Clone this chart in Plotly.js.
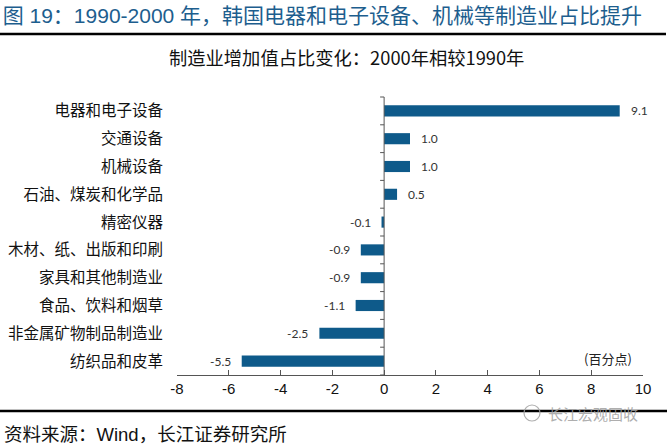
<!DOCTYPE html>
<html>
<head>
<meta charset="utf-8">
<script src="https://cdn.plot.ly/plotly-3.0.1.min.js"></script>
<style>html,body{margin:0;padding:0;background:#fff;}#chart{width:667px;height:445px;}</style>
</head>
<body>
<div id="chart"></div>
<script>
var categories = ["电器和电子设备","交通设备","机械设备","石油、煤炭和化学品","精密仪器","木材、纸、出版和印刷","家具和其他制造业","食品、饮料和烟草","非金属矿物制品制造业","纺织品和皮革"];
var values = [9.1, 1.0, 1.0, 0.5, -0.1, -0.9, -0.9, -1.1, -2.5, -5.5];
var xTicks = [-8, -6, -4, -2, 0, 2, 4, 6, 8, 10];

var W = 667, H = 445, L = 177, R = 24, T = 97, B = 70;
var pw = W - L - R, ph = H - T - B;
function px(x){ return (x - L) / pw; }
function py(y){ return (H - B - y) / ph; }

var cjk = '"Noto Sans CJK SC", sans-serif';
var mixed = '"Liberation Sans", "Noto Sans CJK SC", sans-serif';
var barColor = '#0e5a8a';

var trace = {
  type: 'bar', orientation: 'h',
  x: values, y: categories,
  marker: {color: barColor},
  width: 0.4,
  hoverinfo: 'x+y'
};

var annotations = values.map(function(v, i){
  return {
    x: v, y: categories[i], xref: 'x', yref: 'y',
    text: v.toFixed(1), showarrow: false,
    xanchor: v >= 0 ? 'left' : 'right',
    xshift: v >= 0 ? 9 : -9,
    font: {family: 'Lato, "DejaVu Sans", sans-serif', size: 12, color: '#333'}
  };
});
annotations.push({
  xref: 'paper', yref: 'paper', x: px(346), y: py(57),
  text: '制造业增加值占比变化：2000年相较1990年', showarrow: false,
  xanchor: 'center', yanchor: 'middle',
  font: {family: cjk, size: 18.3, color: '#111'}
});
annotations.push({
  xref: 'paper', yref: 'paper', x: px(608), y: py(358),
  text: '(百分点)', showarrow: false, xanchor: 'center', yanchor: 'middle',
  font: {family: cjk, size: 13, color: '#222'}
});
annotations.push({
  xref: 'paper', yref: 'paper', x: px(2), y: py(434),
  text: '资料来源：Wind，长江证券研究所', showarrow: false, xanchor: 'left', yanchor: 'middle',
  font: {family: mixed, size: 18.5, color: '#111'}
});
annotations.push({
  xref: 'paper', yref: 'paper', x: px(546), y: py(413),
  text: '长江宏观固收', showarrow: false, xanchor: 'left', yanchor: 'middle',
  font: {family: cjk, size: 15, color: 'rgba(160,160,160,0.85)'}
});

var shapes = [
  {type: 'line', xref: 'paper', yref: 'paper', x0: px(0), x1: px(666), y0: py(34), y1: py(34), line: {color: '#000', width: 2.5}},
  {type: 'line', xref: 'paper', yref: 'paper', x0: px(0), x1: px(667), y0: py(411), y1: py(411), line: {color: '#000', width: 2.5}},
  {type: 'circle', xref: 'paper', yref: 'paper', x0: px(524), x1: px(540), y0: py(405), y1: py(421), line: {color: 'rgba(160,160,160,0.85)', width: 1.2}}
];
// y-axis line at x=0 with small category boundary ticks
shapes.push({type: 'line', xref: 'x', yref: 'paper', x0: 0, x1: 0, y0: 0, y1: 1, line: {color: '#555', width: 1}});
for (var i = 0; i <= categories.length; i++) {
  shapes.push({type: 'line', xref: 'x', yref: 'paper', xsizemode: 'pixel', xanchor: 0, x0: -4, x1: 0,
    y0: i / categories.length, y1: i / categories.length, line: {color: '#555', width: 1}});
}

var layout = {
  width: W, height: H,
  margin: {l: L, r: R, t: T, b: B, pad: 0},
  paper_bgcolor: '#fff', plot_bgcolor: '#fff',
  showlegend: false,
  title: {
    text: '图 19：1990-2000 年，韩国电器和电子设备、机械等制造业占比提升',
    x: 0.004, xanchor: 'left', xref: 'container', y: 1 - 16 / H, yanchor: 'middle',
    font: {family: mixed, size: 21, color: '#1d5e8e'}
  },
  xaxis: {
    range: [-8, 10], tickvals: xTicks, ticktext: xTicks.map(String),
    showgrid: false, zeroline: false,
    showline: true, linecolor: '#555', linewidth: 1,
    ticks: 'inside', ticklen: 5, tickcolor: '#555',
    tickfont: {family: '"Liberation Sans Narrow", "Liberation Sans", Arial, sans-serif', size: 15, color: '#111'},
    fixedrange: true
  },
  yaxis: {
    type: 'category', autorange: 'reversed',
    showgrid: false, zeroline: false, showline: false,
    ticks: 'outside', ticklen: 10, tickcolor: 'rgba(0,0,0,0)',
    tickfont: {family: cjk, size: 15.5, color: '#111'},
    fixedrange: true
  },
  annotations: annotations,
  shapes: shapes
};

Plotly.newPlot('chart', [trace], layout, {displayModeBar: false, staticPlot: true});
</script>
</body>
</html>
